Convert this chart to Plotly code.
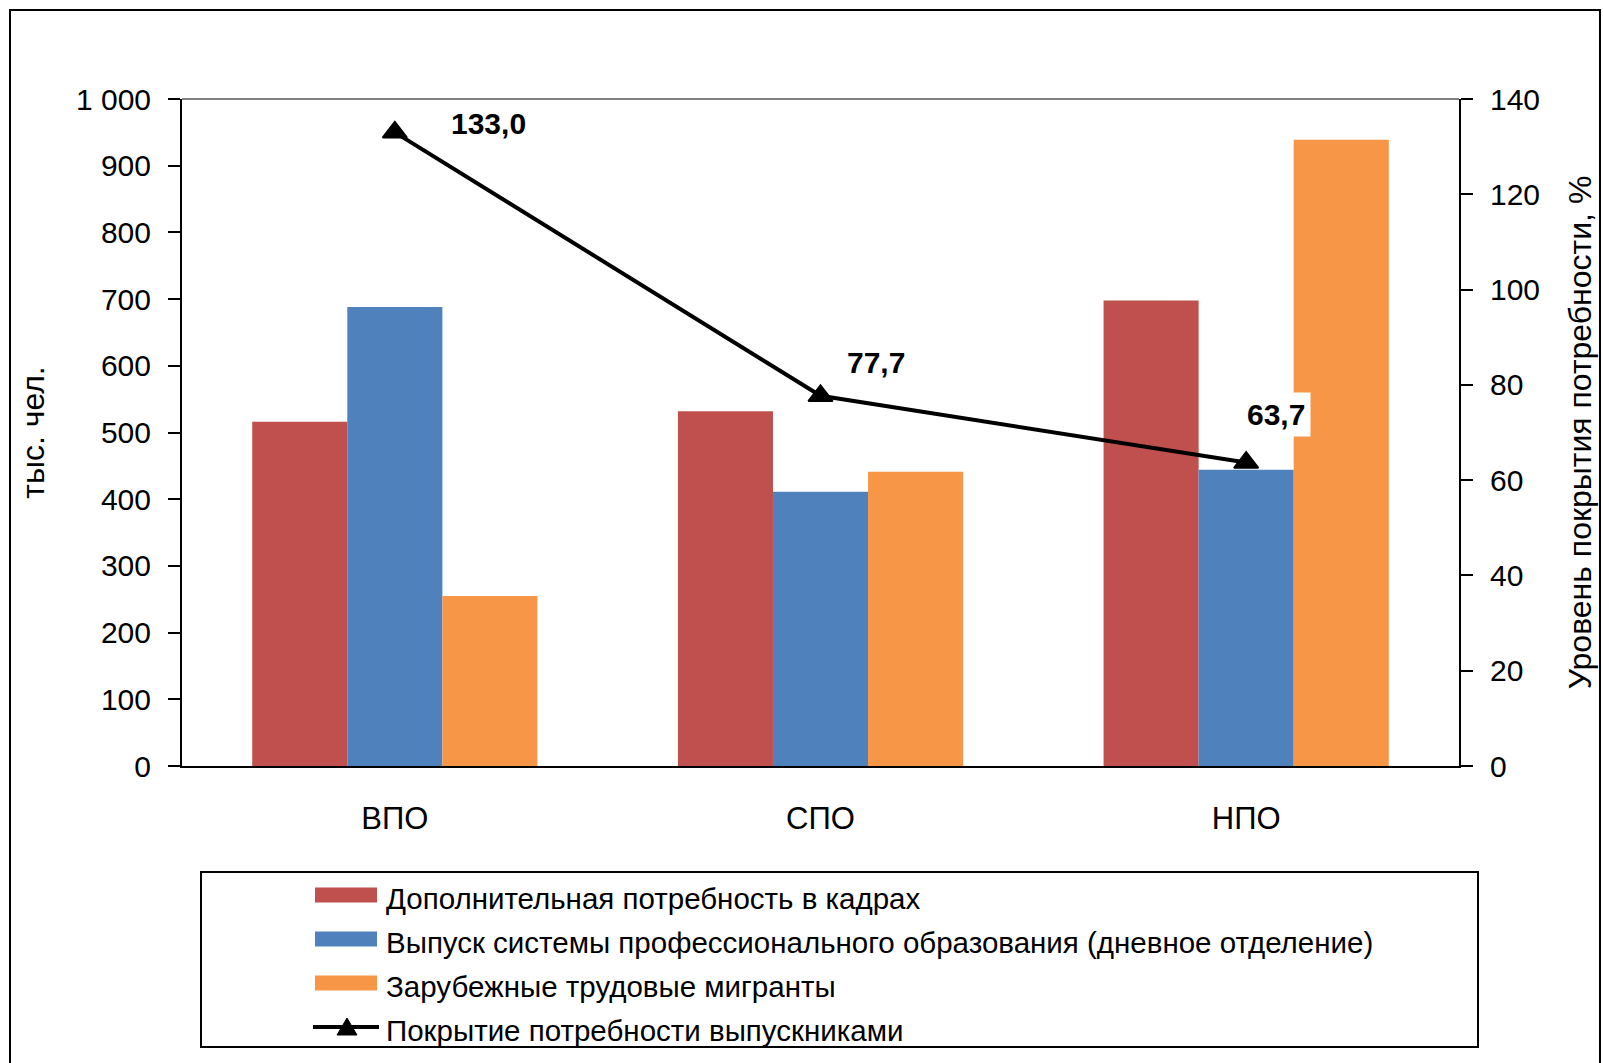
import plotly.graph_objects as go

kategorii = ["ВПО", "СПО", "НПО"]
potrebnost = [516, 532, 698]
vypusk = [688, 411, 444]
migranty = [255, 441, 939]
pokrytie = [133.0, 77.7, 63.7]

nazvaniya = [
    "Дополнительная потребность в кадрах",
    "Выпуск системы профессионального образования (дневное отделение)",
    "Зарубежные трудовые мигранты",
    "Покрытие потребности выпускниками",
]
cveta = ["#C0504D", "#4F81BD", "#F79646"]

SHRIFT = "Liberation Sans, Arial, sans-serif"
granicy = [i - 0.5 for i in range(len(kategorii) + 1)]

# область построения в пикселях: слева 182, справа 1459, сверху 99, снизу 766
W, H = 1603, 1063
L, R, T, B = 182, 1459, 99, 766


def px(x):
    return (x - L) / (R - L)


def py(y):
    return (B - y) / (B - T)


fig = go.Figure()
for i, znach in enumerate([potrebnost, vypusk, migranty]):
    fig.add_trace(go.Bar(x=kategorii, y=znach, name=nazvaniya[i], marker_color=cveta[i],
                         marker_line_width=0, yaxis="y"))

fig.add_trace(go.Scatter(x=kategorii, y=pokrytie, name=nazvaniya[3], mode="lines+markers",
                         line=dict(color="black", width=4),
                         marker=dict(symbol="triangle-up", size=21, color="black",
                                     line=dict(color="black", width=2)),
                         yaxis="y2"))

# подписи значений линии
sdvigi = [(94, 9), (55, 33), (30, 48)]
for k, v, (dx, dy) in zip(kategorii, pokrytie, sdvigi):
    fig.add_annotation(x=k, y=v, xref="x", yref="y2", text="<b>" + f"{v:.1f}".replace(".", ",") + "</b>",
                       showarrow=False, xshift=dx, yshift=dy, bgcolor="white", borderpad=5,
                       font=dict(size=30, color="black", family=SHRIFT))

osi = dict(showgrid=False, zeroline=False, tickcolor="black", tickwidth=2,
           tickfont=dict(size=30, color="black", family=SHRIFT))

fig.update_layout(
    width=W, height=H,
    paper_bgcolor="white", plot_bgcolor="white",
    separators=", ",
    barmode="group", bargap=0.33, bargroupgap=0,
    margin=dict(l=L, r=W - R, t=T, b=H - B),
    font=dict(family=SHRIFT, color="black", size=30),
    showlegend=False,
    xaxis=dict(osi, range=[-0.5, 2.5], ticks="", showline=True, linecolor="black", linewidth=2,
               ticklabelstandoff=24, tickfont=dict(size=31, color="black", family=SHRIFT)),
    xaxis2=dict(osi, overlaying="x", anchor="y", range=[-0.5, 2.5], tickmode="array",
                tickvals=granicy, ticks="outside", ticklen=13, showticklabels=False),
    xaxis3=dict(osi, overlaying="x", anchor="y", range=[-0.5, 2.5], tickmode="array",
                tickvals=granicy, ticks="inside", ticklen=10, showticklabels=False),
    yaxis=dict(osi, range=[0, 1000], dtick=100, ticks="outside", ticklen=12, showline=True,
               linecolor="black", linewidth=2, ticklabelstandoff=11, separatethousands=True,
               title=dict(text="тыс. чел.", standoff=22, font=dict(size=32, family=SHRIFT))),
    yaxis3=dict(osi, overlaying="y", range=[0, 1000], dtick=100, ticks="inside", ticklen=11,
                showticklabels=False),
    yaxis2=dict(osi, overlaying="y", side="right", range=[0, 140], dtick=20, ticks="outside",
                ticklen=12, showline=True, linecolor="black", linewidth=2, ticklabelstandoff=11,
                title=dict(text="Уровень покрытия потребности, %", standoff=30,
                           font=dict(size=32, family=SHRIFT))),
    yaxis4=dict(osi, overlaying="y2", side="right", range=[0, 140], dtick=20, ticks="inside",
                ticklen=11, showticklabels=False),
)

# серая линия по верху области построения
fig.add_shape(type="line", xref="paper", yref="paper", x0=0, x1=1, y0=1, y1=1,
              line=dict(color="#808080", width=2))
# внешняя рамка
fig.add_shape(type="rect", xref="paper", yref="paper", x0=px(10), x1=px(1600), y0=py(1075), y1=py(10),
              line=dict(color="black", width=2), layer="below")

# легенда (рамка, образцы, подписи)
fig.add_shape(type="rect", xref="paper", yref="paper", x0=px(201), x1=px(1478), y0=py(1047), y1=py(872),
              line=dict(color="black", width=2), layer="below")
shag = 44
for i, nazv in enumerate(nazvaniya):
    yc = 895 + i * shag
    if i < len(cveta):
        fig.add_shape(type="rect", xref="paper", yref="paper", xsizemode="pixel", ysizemode="pixel",
                      xanchor=px(346), yanchor=py(yc), x0=-31, x1=31, y0=-7.5, y1=7.5,
                      line_width=0, fillcolor=cveta[i])
    else:
        fig.add_shape(type="line", xref="paper", yref="paper", x0=px(313), x1=px(379),
                      y0=py(yc), y1=py(yc), line=dict(color="black", width=4))
        fig.add_shape(type="path", xref="paper", yref="paper", xsizemode="pixel", ysizemode="pixel",
                      xanchor=px(347), yanchor=py(yc), path="M -10,-8 L 10,-8 L 0,9 Z",
                      fillcolor="black", line=dict(color="black", width=1))
    fig.add_annotation(x=px(384), y=py(yc + 3), xref="paper", yref="paper", text=nazv,
                       showarrow=False, xanchor="left", yanchor="middle",
                       font=dict(size=29.5, color="black", family=SHRIFT))

fig.write_html("out.html", config={"displayModeBar": False},
               post_script="document.body.style.margin='0px';")
